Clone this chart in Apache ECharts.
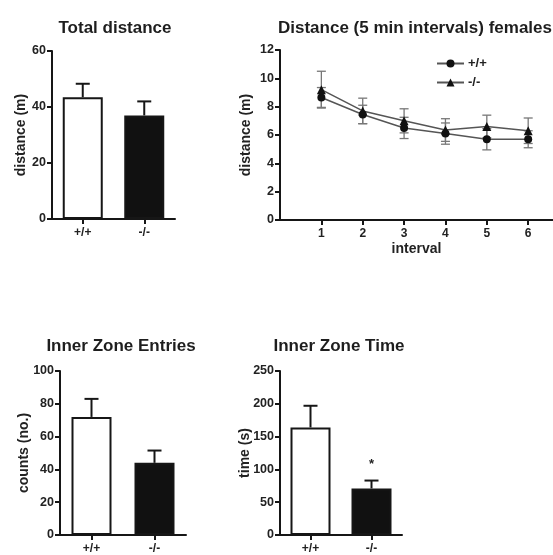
<!DOCTYPE html>
<html><head><meta charset="utf-8">
<script src="https://cdn.jsdelivr.net/npm/echarts@6/dist/echarts.min.js"></script>
<style>html,body{margin:0;padding:0;background:#fff}#c{width:553px;height:555px}</style>
</head><body><div id="c"></div>
<script>
// ---- data ----
const groups = ['+/+', '-/-'];
const totalDistanceMean = [43.5, 37];
const totalDistanceSem = [4.8, 5];
const intervals = [1, 2, 3, 4, 5, 6];
const wtInterval = [8.65, 7.45, 6.5, 6.1, 5.7, 5.7];
const wtIntervalSem = [0.7, 0.65, 0.75, 0.75, 0.75, 0.6];
const koInterval = [9.2, 7.7, 7.0, 6.35, 6.6, 6.3];
const koIntervalSem = [1.3, 0.9, 0.85, 0.8, 0.8, 0.9];
const entriesMean = [72, 44];
const entriesSem = [11, 7.5];
const timeMean = [164, 71];
const timeSem = [33, 12];
const timeSignificance = ['', '*'];
const titles = ['Total distance', 'Distance (5 min intervals) females', 'Inner Zone Entries', 'Inner Zone Time'];
const yNames = ['distance (m)', 'distance (m)', 'counts (no.)', 'time (s)'];
const xName2 = 'interval';

// ---- styles ----
const F = '"Liberation Sans", Arial, sans-serif';
const INK = '#161616';
const axisLine = {show: true, onZero: false, lineStyle: {color: INK, width: 2}};
const axisTick = {show: true, inside: false, length: 5, lineStyle: {color: INK, width: 2}};
const lbl = (m, s) => ({color: '#222', fontSize: s || 12, fontWeight: 'bold', fontFamily: F, margin: m});
const nameStyle = {color: '#222', fontSize: 14, fontWeight: 'bold', fontFamily: F};

function yAxis(gi, max, interval, name, gap) {
  return {type: 'value', gridIndex: gi, min: 0, max: max, interval: interval,
    axisLine, axisTick, axisLabel: lbl(6, 12.5), splitLine: {show: false},
    name: name, nameLocation: 'middle', nameRotate: 90, nameGap: gap, nameMoveOverlap: false,
    nameTextStyle: nameStyle};
}
function catAxis(gi) {
  return {type: 'category', gridIndex: gi, data: groups, boundaryGap: true,
    axisLine, axisTick: Object.assign({alignWithLabel: true}, axisTick), axisLabel: lbl(8), splitLine: {show: false}};
}
function barSeries(gi, means) {
  return {type: 'bar', xAxisIndex: gi, yAxisIndex: gi, barWidth: 40, z: 2,
    data: means.map((v, i) => ({value: v, itemStyle: {color: i === 0 ? '#fff' : '#111', borderColor: INK, borderWidth: 2}}))};
}
function barErr(gi, means, sems, sig) {
  return {type: 'custom', xAxisIndex: gi, yAxisIndex: gi, z: 3,
    encode: {x: 0, y: 1},
    data: means.map((v, i) => [i, v, sems[i]]),
    renderItem: function (params, api) {
      const x = api.value(0), m = api.value(1), e = api.value(2);
      const p0 = api.coord([x, m]);
      const p1 = api.coord([x, m + e]);
      const cw = 14;
      const ch = [
        {type: 'line', shape: {x1: p0[0], y1: p0[1], x2: p1[0], y2: p1[1]}, style: {stroke: INK, lineWidth: 2}},
        {type: 'line', shape: {x1: p1[0] - cw / 2, y1: p1[1], x2: p1[0] + cw / 2, y2: p1[1]}, style: {stroke: INK, lineWidth: 2}}
      ];
      if (sig && sig[params.dataIndex]) {
        ch.push({type: 'text', style: {text: sig[params.dataIndex], x: p1[0], y: p1[1] - 16,
          align: 'center', verticalAlign: 'middle', fill: '#222', font: 'bold 13px ' + F}});
      }
      return {type: 'group', children: ch};
    }};
}
function lineErr(means, sems) {
  return {type: 'custom', xAxisIndex: 1, yAxisIndex: 1, z: 1,
    encode: {x: 0, y: 1},
    data: means.map((v, i) => [intervals[i], v, sems[i]]),
    renderItem: function (params, api) {
      const x = api.value(0), m = api.value(1), e = api.value(2);
      const a = api.coord([x, m + e]);
      const b = api.coord([x, m - e]);
      const cw = 9;
      const st = {stroke: '#777', lineWidth: 1.3};
      return {type: 'group', children: [
        {type: 'line', shape: {x1: a[0], y1: a[1], x2: b[0], y2: b[1]}, style: st},
        {type: 'line', shape: {x1: a[0] - cw / 2, y1: a[1], x2: a[0] + cw / 2, y2: a[1]}, style: st},
        {type: 'line', shape: {x1: b[0] - cw / 2, y1: b[1], x2: b[0] + cw / 2, y2: b[1]}, style: st}
      ]};
    }};
}

const titleStyle = {color: '#1e1e1e', fontSize: 17, fontWeight: 'bold', fontFamily: F};
const chart = echarts.init(document.getElementById('c'), null, {renderer: 'canvas'});
chart.setOption({
  animation: false,
  backgroundColor: '#fff',
  title: [
    {text: titles[0], left: 110, top: 15, textAlign: 'center', textStyle: titleStyle},
    {text: titles[1], left: 410, top: 15, textAlign: 'center', textStyle: titleStyle},
    {text: titles[2], left: 116, top: 333, textAlign: 'center', textStyle: titleStyle},
    {text: titles[3], left: 334, top: 333, textAlign: 'center', textStyle: titleStyle}
  ],
  legend: {
    data: groups, orient: 'vertical', left: 431, top: 52, itemWidth: 27, itemHeight: 10, itemGap: 6,
    textStyle: {color: '#222', fontSize: 13, fontWeight: 'bold', fontFamily: F, padding: [0, 0, 0, -1]}
  },
  grid: [
    {left: 52, top: 51, width: 123, height: 168},
    {left: 280, top: 50, width: 273, height: 170},
    {left: 60, top: 371, width: 126, height: 168},
    {left: 280, top: 371, width: 122, height: 168}
  ],
  xAxis: [
    catAxis(0),
    {type: 'value', gridIndex: 1, min: 0, max: 6.6, interval: 1,
      axisLine, axisTick, axisLabel: Object.assign(lbl(8), {showMinLabel: false, showMaxLabel: false}),
      splitLine: {show: false},
      name: xName2, nameLocation: 'middle', nameGap: 22, nameMoveOverlap: false, nameTextStyle: nameStyle},
    catAxis(2),
    catAxis(3)
  ],
  yAxis: [
    yAxis(0, 60, 20, yNames[0], 24),
    yAxis(1, 12, 2, yNames[1], 27),
    yAxis(2, 100, 20, yNames[2], 29),
    yAxis(3, 250, 50, yNames[3], 28)
  ],
  series: [
    barSeries(0, totalDistanceMean),
    barErr(0, totalDistanceMean, totalDistanceSem),
    lineErr(wtInterval, wtIntervalSem),
    lineErr(koInterval, koIntervalSem),
    {name: groups[0], type: 'line', xAxisIndex: 1, yAxisIndex: 1, z: 3,
      data: wtInterval.map((v, i) => [intervals[i], v]),
      symbol: 'circle', symbolSize: 8,
      lineStyle: {color: '#555', width: 1.5}, itemStyle: {color: '#111'}},
    {name: groups[1], type: 'line', xAxisIndex: 1, yAxisIndex: 1, z: 3,
      data: koInterval.map((v, i) => [intervals[i], v]),
      symbol: 'triangle', symbolSize: 9,
      lineStyle: {color: '#555', width: 1.5}, itemStyle: {color: '#111'}},
    barSeries(2, entriesMean),
    barErr(2, entriesMean, entriesSem),
    barSeries(3, timeMean),
    barErr(3, timeMean, timeSem, timeSignificance)
  ]
});
</script>
</body></html>
